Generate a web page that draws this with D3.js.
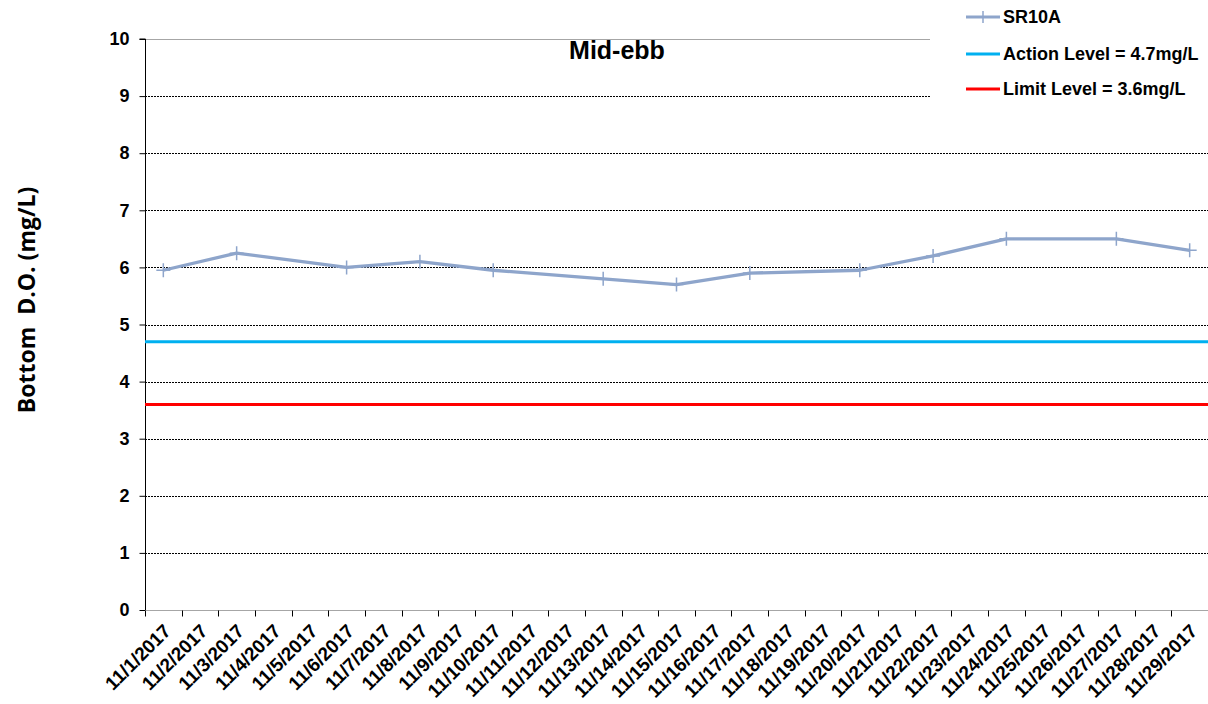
<!DOCTYPE html>
<html><head><meta charset="utf-8">
<script src="https://cdn.jsdelivr.net/npm/d3@7"></script>
<style>body{margin:0;background:#fff}svg{display:block}</style>
</head><body><svg id="c" width="1208" height="704"></svg>
<script>
const dates = ["11/1/2017","11/2/2017","11/3/2017","11/4/2017","11/5/2017","11/6/2017","11/7/2017","11/8/2017","11/9/2017","11/10/2017","11/11/2017","11/12/2017","11/13/2017","11/14/2017","11/15/2017","11/16/2017","11/17/2017","11/18/2017","11/19/2017","11/20/2017","11/21/2017","11/22/2017","11/23/2017","11/24/2017","11/25/2017","11/26/2017","11/27/2017","11/28/2017","11/29/2017"];
const sampleDates = ["11/1/2017","11/3/2017","11/6/2017","11/8/2017","11/10/2017","11/13/2017","11/15/2017","11/17/2017","11/20/2017","11/22/2017","11/24/2017","11/27/2017","11/29/2017"];
const sr10a = [5.95,6.25,6.0,6.1,5.95,5.8,5.7,5.9,5.95,6.2,6.5,6.5,6.3];
const actionLevel = 4.7;
const limitLevel = 3.6;
const yTicks = [0,1,2,3,4,5,6,7,8,9,10];
const legendItems = [["SR10A","#8EA5CB"],["Action Level = 4.7mg/L","#00B0F0"],["Limit Level = 3.6mg/L","#FF0000"]];

const svg = d3.select("#c");
const L=145,R=1208,T=39,B=610;
const x = d3.scaleBand().domain(dates).range([L,R]);
const y = d3.scaleLinear().domain([0,10]).range([B,T]);
const font = "Liberation Sans, Arial, sans-serif";

// gridlines
yTicks.filter(v=>v>0).forEach(v=>{
  svg.append("line").attr("x1",L).attr("x2",R).attr("y1",Math.round(y(v))+0.5).attr("y2",Math.round(y(v))+0.5)
    .attr("stroke", v===10?"#a6a6a6":"#000").attr("stroke-width",1)
    .attr("stroke-dasharray", v===10?null:"2,1");
});

// legend background box
svg.append("rect").attr("x",930).attr("y",0).attr("width",278).attr("height",120).attr("fill","#fff");

// y axis
const ya = svg.append("g").attr("transform",`translate(${L+0.5},0)`)
  .call(d3.axisLeft(y).tickValues(yTicks).tickSize(6).tickPadding(10).tickFormat(d3.format("d")));
ya.select(".domain").attr("stroke","#000").attr("d",`M-6,${y(10)}H0V${B}`);
ya.selectAll(".tick line").attr("stroke","#000");
ya.selectAll("text").attr("font-family",font).attr("font-weight","bold").attr("font-size",18).attr("fill","#000");

// x axis
const xa = svg.append("g").attr("transform",`translate(0,${B+0.5})`)
  .call(d3.axisBottom(x).tickSize(0).tickFormat(d=>d));
xa.select(".domain").attr("stroke","#a6a6a6").attr("d",`M${L},0H${R}`);
const bounds = dates.map(d=>x(d)).concat([R]);
bounds.forEach(bx=>{
  xa.append("line").attr("x1",Math.round(bx)+0.5).attr("x2",Math.round(bx)+0.5).attr("y1",0).attr("y2",6).attr("stroke","#000");
});
xa.selectAll(".tick text").attr("font-family",font).attr("font-weight","bold").attr("font-size",19).attr("fill","#000")
  .attr("text-anchor","end").attr("dy","0.35em")
  .attr("transform","translate(4,17) rotate(-45)").attr("y",0).attr("x",0);

// level lines
svg.append("line").attr("x1",L).attr("x2",R).attr("y1",y(actionLevel)).attr("y2",y(actionLevel)).attr("stroke","#00B0F0").attr("stroke-width",3);
svg.append("line").attr("x1",L).attr("x2",R).attr("y1",y(limitLevel)).attr("y2",y(limitLevel)).attr("stroke","#FF0000").attr("stroke-width",3);

// series
const pts = sampleDates.map((d,i)=>[x(d)+x.bandwidth()/2, y(sr10a[i])]);
svg.append("path").attr("d",d3.line()(pts)).attr("fill","none").attr("stroke","#8EA5CB").attr("stroke-width",3.3).attr("stroke-linejoin","round");
pts.forEach(p=>{
  svg.append("path").attr("d",`M${p[0]-7},${p[1]}H${p[0]+7}M${p[0]},${p[1]-7}V${p[1]+7}`).attr("stroke","#8EA5CB").attr("stroke-width",1.5);
});

// title
svg.append("text").attr("x",617).attr("y",59).attr("text-anchor","middle").attr("font-family",font).attr("font-weight","bold").attr("font-size",25).text("Mid-ebb");

// y title
svg.append("text").attr("transform","translate(35,300) rotate(-90)").attr("text-anchor","middle")
  .attr("font-family","Open Sans, DejaVu Sans, sans-serif").attr("font-weight","bold").attr("font-size",23).attr("xml:space","preserve").text("Bottom  D.O. (mg/L)");

// legend
legendItems.forEach((it,i)=>{
  const ly = [17,54,89][i];
  svg.append("line").attr("x1",966).attr("x2",1000).attr("y1",ly).attr("y2",ly).attr("stroke",it[1]).attr("stroke-width",3);
  if(i===0) svg.append("path").attr("d",`M983,${ly-6}V${ly+6}`).attr("stroke",it[1]).attr("stroke-width",1.5);
  svg.append("text").attr("x",1003).attr("y",ly+6).attr("font-family",font).attr("font-weight","bold").attr("font-size",18).attr("fill","#000").text(it[0]);
});
</script></body></html>
